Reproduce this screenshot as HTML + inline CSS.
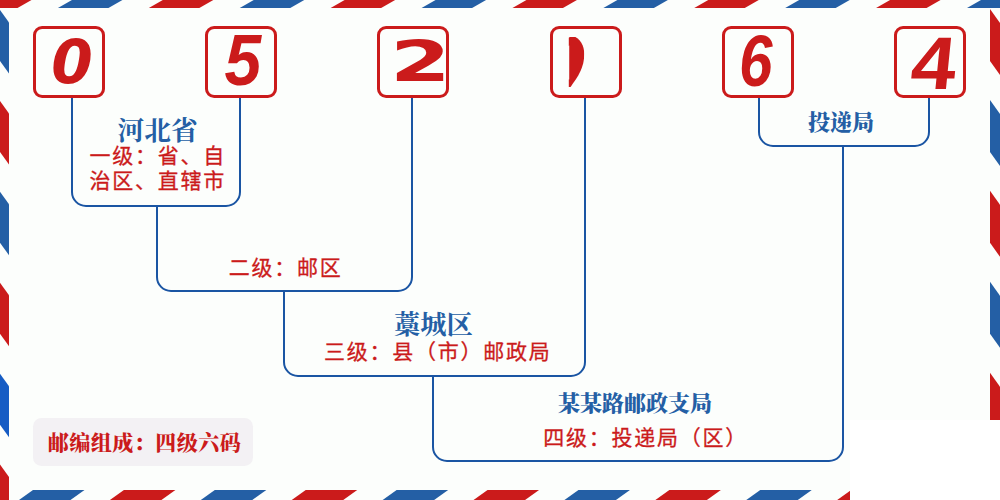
<!DOCTYPE html>
<html lang="zh-CN">
<head>
<meta charset="utf-8">
<title>052164 邮编组成</title>
<style>
html,body{margin:0;padding:0;background:#fcfefc;}
body{width:1000px;height:500px;overflow:hidden;position:relative;}
svg{display:block;position:absolute;left:0;top:0;}
</style>
</head>
<body>
<svg width="1000" height="500" viewBox="0 0 1000 500">
<rect x="0" y="0" width="1000" height="500" fill="#fcfefc"/>
<g shape-rendering="geometricPrecision">
<polygon points="-19.00,0.00 31.50,0.00 17.50,8.00 -33.00,8.00" fill="#cb1b1b"/>
<polygon points="71.91,0.00 122.41,0.00 108.41,8.00 57.91,8.00" fill="#245fa5"/>
<polygon points="162.82,0.00 213.32,0.00 199.32,8.00 148.82,8.00" fill="#cb1b1b"/>
<polygon points="253.73,0.00 304.23,0.00 290.23,8.00 239.73,8.00" fill="#245fa5"/>
<polygon points="344.64,0.00 395.14,0.00 381.14,8.00 330.64,8.00" fill="#cb1b1b"/>
<polygon points="435.55,0.00 486.05,0.00 472.05,8.00 421.55,8.00" fill="#245fa5"/>
<polygon points="526.45,0.00 576.95,0.00 562.95,8.00 512.45,8.00" fill="#cb1b1b"/>
<polygon points="617.36,0.00 667.86,0.00 653.86,8.00 603.36,8.00" fill="#245fa5"/>
<polygon points="708.27,0.00 758.77,0.00 744.77,8.00 694.27,8.00" fill="#cb1b1b"/>
<polygon points="799.18,0.00 849.68,0.00 835.68,8.00 785.18,8.00" fill="#245fa5"/>
<polygon points="890.09,0.00 940.59,0.00 926.59,8.00 876.09,8.00" fill="#cb1b1b"/>
<polygon points="981.00,0.00 1031.50,0.00 1017.50,8.00 967.00,8.00" fill="#245fa5"/>
<polygon points="1071.91,0.00 1122.41,0.00 1108.41,8.00 1057.91,8.00" fill="#cb1b1b"/>
<polygon points="-57.91,490.00 -6.41,490.00 -20.41,500.00 -71.91,500.00" fill="#cb1b1b"/>
<polygon points="33.00,490.00 84.50,490.00 70.50,500.00 19.00,500.00" fill="#245fa5"/>
<polygon points="123.91,490.00 175.41,490.00 161.41,500.00 109.91,500.00" fill="#cb1b1b"/>
<polygon points="214.82,490.00 266.32,490.00 252.32,500.00 200.82,500.00" fill="#245fa5"/>
<polygon points="305.73,490.00 357.23,490.00 343.23,500.00 291.73,500.00" fill="#cb1b1b"/>
<polygon points="396.64,490.00 448.14,490.00 434.14,500.00 382.64,500.00" fill="#245fa5"/>
<polygon points="487.55,490.00 539.05,490.00 525.05,500.00 473.55,500.00" fill="#cb1b1b"/>
<polygon points="578.45,490.00 629.95,490.00 615.95,500.00 564.45,500.00" fill="#245fa5"/>
<polygon points="669.36,490.00 720.86,490.00 706.86,500.00 655.36,500.00" fill="#cb1b1b"/>
<polygon points="760.27,490.00 811.77,490.00 797.77,500.00 746.27,500.00" fill="#245fa5"/>
<polygon points="851.18,490.00 902.68,490.00 888.68,500.00 837.18,500.00" fill="#cb1b1b"/>
<polygon points="942.09,490.00 993.59,490.00 979.59,500.00 928.09,500.00" fill="#245fa5"/>
<polygon points="1033.00,490.00 1084.50,490.00 1070.50,500.00 1019.00,500.00" fill="#cb1b1b"/>
<polygon points="0.00,-80.91 9.00,-68.41 9.00,-17.41 0.00,-29.91" fill="#cb1b1b"/>
<polygon points="0.00,10.00 9.00,22.50 9.00,73.50 0.00,61.00" fill="#245fa5"/>
<polygon points="0.00,100.91 9.00,113.41 9.00,164.41 0.00,151.91" fill="#cb1b1b"/>
<polygon points="0.00,191.82 9.00,204.32 9.00,255.32 0.00,242.82" fill="#245fa5"/>
<polygon points="0.00,282.73 9.00,295.23 9.00,346.23 0.00,333.73" fill="#cb1b1b"/>
<polygon points="0.00,373.64 9.00,386.14 9.00,437.14 0.00,424.64" fill="#165cc4"/>
<polygon points="0.00,464.55 9.00,477.05 9.00,528.05 0.00,515.55" fill="#cb1b1b"/>
<polygon points="0.00,555.45 9.00,567.95 9.00,618.95 0.00,606.45" fill="#245fa5"/>
<polygon points="990.00,-81.91 1000.00,-67.91 1000.00,-15.91 990.00,-29.91" fill="#245fa5"/>
<polygon points="990.00,9.00 1000.00,23.00 1000.00,75.00 990.00,61.00" fill="#cb1b1b"/>
<polygon points="990.00,99.91 1000.00,113.91 1000.00,165.91 990.00,151.91" fill="#245fa5"/>
<polygon points="990.00,190.82 1000.00,204.82 1000.00,256.82 990.00,242.82" fill="#cb1b1b"/>
<polygon points="990.00,281.73 1000.00,295.73 1000.00,347.73 990.00,333.73" fill="#245fa5"/>
<polygon points="990.00,372.64 1000.00,386.64 1000.00,438.64 990.00,424.64" fill="#cb1b1b"/>
<polygon points="990.00,463.55 1000.00,477.55 1000.00,529.55 990.00,515.55" fill="#245fa5"/>
<polygon points="990.00,554.45 1000.00,568.45 1000.00,620.45 990.00,606.45" fill="#cb1b1b"/>
</g>
<rect x="850" y="420" width="150" height="80" fill="#ffffff"/>
<rect x="33" y="418" width="220" height="48" rx="8.5" ry="8.5" fill="#f3f1f4"/>
<g fill="none" stroke="#1a55a3" stroke-width="2">
<path d="M72 98 V192 A14 14 0 0 0 86 206 H226 A14 14 0 0 0 240 192 V98" />
<path d="M157 206 V277 A14 14 0 0 0 171 291 H398 A14 14 0 0 0 412 277 V98" />
<path d="M284 291 V362 A14 14 0 0 0 298 376 H571 A14 14 0 0 0 585 362 V98" />
<path d="M433 376 V447 A14 14 0 0 0 447 461 H829 A14 14 0 0 0 843 447 V146" />
<path d="M759 98 V132 A14 14 0 0 0 773 146 H915 A14 14 0 0 0 929 132 V98" />
</g>
<g>
<rect x="34.5" y="27.5" width="69" height="69" rx="7.6" ry="7.6" fill="none" stroke="#cb1b1b" stroke-width="3"/>
<rect x="206.5" y="27.5" width="69" height="69" rx="7.6" ry="7.6" fill="none" stroke="#cb1b1b" stroke-width="3"/>
<rect x="378.5" y="27.5" width="69" height="69" rx="7.6" ry="7.6" fill="none" stroke="#cb1b1b" stroke-width="3"/>
<rect x="551.5" y="27.5" width="69" height="69" rx="7.6" ry="7.6" fill="none" stroke="#cb1b1b" stroke-width="3"/>
<rect x="723.5" y="27.5" width="69" height="69" rx="7.6" ry="7.6" fill="none" stroke="#cb1b1b" stroke-width="3"/>
<rect x="895.5" y="27.5" width="69" height="69" rx="7.6" ry="7.6" fill="none" stroke="#cb1b1b" stroke-width="3"/>
</g>
<g>
<text transform="matrix(0.905 0 0 0.912 51.19 82.69)" x="0" y="0" font-size="66" fill="#cb1b1b" font-family="'DejaVu Sans','Liberation Sans',sans-serif" font-weight="700" font-style="oblique">0</text>
<text transform="matrix(1 0 0 1.096 224.4 85.3)" x="0" y="0" font-size="66" fill="#cb1b1b" font-family="'Liberation Sans','DejaVu Sans',sans-serif" font-weight="700" font-style="italic">5</text>
<text transform="matrix(1.323 0 0 0.871 390.09 81.6)" x="0" y="0" font-size="66" fill="#cb1b1b" font-family="'DejaVu Sans','Liberation Sans',sans-serif" font-weight="700" font-style="normal">2</text>
<text transform="matrix(0.912 0 0 1.102 738.96 85.9)" x="0" y="0" font-size="66" fill="#cb1b1b" font-family="'Liberation Sans','DejaVu Sans',sans-serif" font-weight="700" font-style="italic">6</text>
<text transform="matrix(1.22 0 -0.113 1.13 908.9 89)" x="0" y="0" font-size="66" fill="#cb1b1b" font-family="'Liberation Sans','DejaVu Sans',sans-serif" font-weight="700" font-style="normal">4</text>
<clipPath id="c1"><path d="M15 -47 L17.5 -47 C22 -44 24.4 -38 24.4 -30 C24.4 -18 21 -10 16.2 0 L15 0 Z"/></clipPath>
<text transform="matrix(1.67 0 0 1.096 543.5 86.9)" clip-path="url(#c1)" x="0" y="0" font-size="66" fill="#cb1b1b" font-family="'Liberation Sans',sans-serif" font-weight="700">1</text>
</g>
<g>
<text x="117.6" y="139.6" font-size="26.67" fill="#245fa5" font-family="'Liberation Serif','Noto Serif CJK SC',serif" font-weight="700">河北省</text>
<text x="394" y="334" font-size="26.3" fill="#245fa5" font-family="'Liberation Serif','Noto Serif CJK SC',serif" font-weight="700">藁城区</text>
<text x="558" y="411.4" font-size="22" fill="#245fa5" font-family="'Liberation Serif','Noto Serif CJK SC',serif" font-weight="900">某某路邮政支局</text>
<text x="808" y="129.6" font-size="22" fill="#245fa5" font-family="'Liberation Serif','Noto Serif CJK SC',serif" font-weight="900">投递局</text>
<text x="89.5" y="163.3" font-size="21" fill="#cb1b1b" font-family="'Liberation Sans','Noto Sans CJK SC',sans-serif" font-weight="400" letter-spacing="1.75" stroke="#cb1b1b" stroke-width="0.3"><tspan x="89.5" y="163.3">一级：省、自</tspan><tspan x="89.5" y="187.5">治区、直辖市</tspan></text>
<text x="228.7" y="274.6" font-size="21" fill="#cb1b1b" font-family="'Liberation Sans','Noto Sans CJK SC',sans-serif" font-weight="400" letter-spacing="1.75" stroke="#cb1b1b" stroke-width="0.3">二级：邮区</text>
<text x="324" y="358.6" font-size="21" fill="#cb1b1b" font-family="'Liberation Sans','Noto Sans CJK SC',sans-serif" font-weight="400" letter-spacing="1.75" stroke="#cb1b1b" stroke-width="0.3">三级：县（市）邮政局</text>
<text x="543.2" y="445" font-size="21" fill="#cb1b1b" font-family="'Liberation Sans','Noto Sans CJK SC',sans-serif" font-weight="400" letter-spacing="1.75" stroke="#cb1b1b" stroke-width="0.3">四级：投递局（区）</text>
<text x="47.8" y="450.3" font-size="21" fill="#cb1b1b" font-family="'Liberation Serif','Noto Serif CJK SC',serif" font-weight="900" letter-spacing="0.5">邮编组成：四级六码</text>
</g>
</svg>
</body>
</html>
